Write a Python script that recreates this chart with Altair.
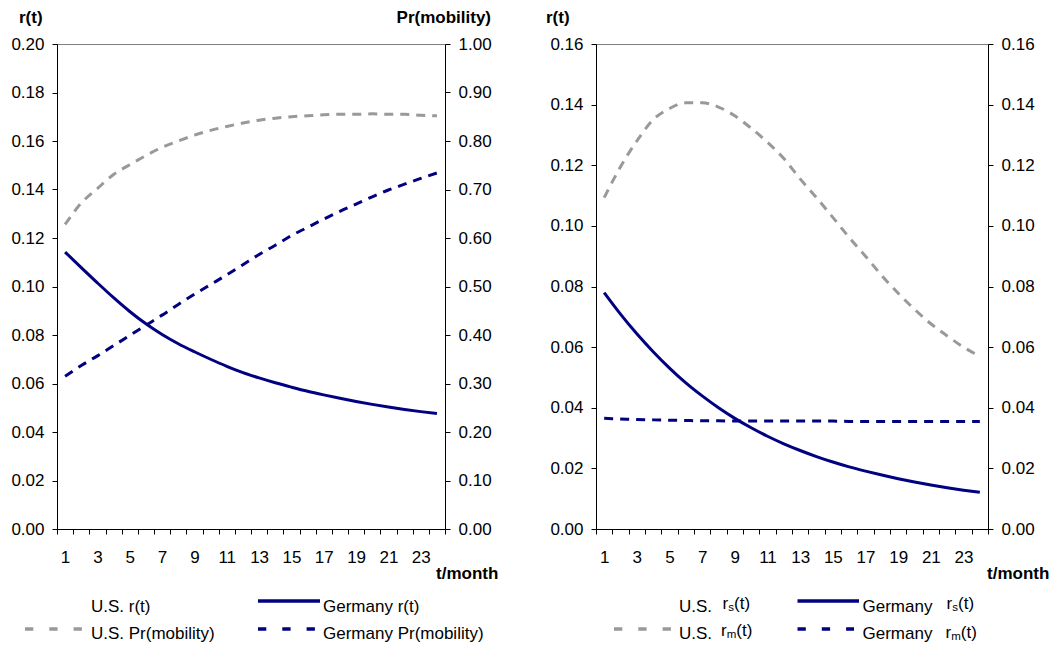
import altair as alt
import pandas as pd

# ---------------- data ----------------
months = list(range(1, 25))

# left panel
de_r = [0.1142, 0.1078, 0.1015, 0.0954, 0.0897, 0.0846, 0.0802, 0.0764, 0.0731, 0.0700,
        0.0671, 0.0645, 0.0623, 0.0603, 0.0585, 0.0568, 0.0553, 0.0539, 0.0526, 0.0514,
        0.0503, 0.0493, 0.0484, 0.0476]
us_pr = [0.628, 0.672, 0.702, 0.731, 0.751, 0.770, 0.787, 0.800, 0.812, 0.822,
         0.830, 0.837, 0.843, 0.847, 0.850, 0.852, 0.854, 0.855, 0.855, 0.856,
         0.855, 0.855, 0.853, 0.852]
de_pr = [0.315, 0.337, 0.357, 0.378, 0.399, 0.420, 0.441, 0.463, 0.484, 0.504,
         0.524, 0.545, 0.566, 0.585, 0.605, 0.622, 0.639, 0.655, 0.670, 0.685,
         0.699, 0.711, 0.723, 0.734]

# right panel
us_rm = [0.1093, 0.1195, 0.1280, 0.1350, 0.1387, 0.1406, 0.1406, 0.1392, 0.1363, 0.1322,
         0.1276, 0.1222, 0.1155, 0.1093, 0.1028, 0.0962, 0.0900, 0.0836, 0.0778, 0.0725,
         0.0677, 0.0637, 0.0600, 0.0570]
de_rs = [0.0780, 0.0709, 0.0644, 0.0585, 0.0531, 0.0482, 0.0439, 0.0400, 0.0365, 0.0334,
         0.0306, 0.0281, 0.0259, 0.0239, 0.0221, 0.0205, 0.0191, 0.0178, 0.0166, 0.0155,
         0.0145, 0.0136, 0.0128, 0.0121]
de_rm = [0.0365, 0.0363, 0.0361, 0.0360, 0.0359, 0.0358, 0.0357, 0.0357, 0.0356, 0.0356,
         0.0356, 0.0356, 0.0356, 0.0356, 0.0356, 0.0355, 0.0355, 0.0355, 0.0355, 0.0355,
         0.0355, 0.0355, 0.0355, 0.0355]

r_ticks_left = [0.00, 0.02, 0.04, 0.06, 0.08, 0.10, 0.12, 0.14, 0.16, 0.18, 0.20]
pr_ticks = [0.0, 0.1, 0.2, 0.3, 0.4, 0.5, 0.6, 0.7, 0.8, 0.9, 1.0]
r_ticks_right = [0.00, 0.02, 0.04, 0.06, 0.08, 0.10, 0.12, 0.14, 0.16]
x_boundaries = [k + 0.5 for k in range(0, 25)]

series = ["U.S.", "Germany"]

# ---------------- style ----------------
NAVY = "#000080"
GRAY = "#999999"
FONT = "Liberation Sans"
FS = 17
W1, W2, H = 388, 392, 485
DASH = [9, 7]
TITLE_Y = -26


def x_enc(width):
    return alt.X(
        "t:Q",
        scale=alt.Scale(domain=[0.5, 24.5], nice=False, zero=False),
        axis=alt.Axis(
            values=x_boundaries,
            labelExpr="(datum.value < 24 && (datum.value + 0.5) % 2 == 1) ? format(datum.value + 0.5, 'd') : ''",
            labelOffset=width / 48.0,
            labelAlign="center",
            labelPadding=15,
            labelFlush=False,
            labelOverlap=False,
            title=None,
        ),
    )


def y_axis(orient, values, fmt):
    return alt.Axis(orient=orient, values=values, format=fmt, title=None,
                    labelPadding=8, labelOverlap=False, labelFlush=False)


def txt(text, x, y, size=FS, bold=False, align="left"):
    return alt.Chart(pd.DataFrame({"k": [0]})).mark_text(
        text=text, align=align, baseline="middle", font=FONT, fontSize=size,
        fontWeight="bold" if bold else "normal", color="black",
    ).encode(x=alt.value(x), y=alt.value(y))


def seg(x1, x2, y, color, dash=None):
    kw = dict(color=color, strokeWidth=3.5)
    if dash:
        kw["strokeDash"] = dash
    return alt.Chart(pd.DataFrame({"k": [0]})).mark_rule(**kw).encode(
        x=alt.value(x1), x2=alt.value(x2), y=alt.value(y))


# ---------------- left panel ----------------
df_l1 = pd.DataFrame({"t": months, "value": de_r})
df_l2 = pd.DataFrame({
    "t": months * 2,
    "value": us_pr + de_pr,
    "series": [series[0]] * 24 + [series[1]] * 24,
})

left_line = alt.Chart(df_l1).mark_line(color=NAVY, strokeWidth=3, interpolate="monotone").encode(
    x=x_enc(W1),
    y=alt.Y("value:Q", scale=alt.Scale(domain=[0, 0.20], nice=False, zero=True),
            axis=y_axis("left", r_ticks_left, ".2f")),
)
left_pr = alt.Chart(df_l2).mark_line(strokeWidth=3, strokeDash=DASH, interpolate="monotone").encode(
    x=x_enc(W1),
    y=alt.Y("value:Q", scale=alt.Scale(domain=[0, 1.0], nice=False, zero=True),
            axis=y_axis("right", pr_ticks, ".2f")),
    color=alt.Color("series:N", scale=alt.Scale(domain=series, range=[GRAY, NAVY]), legend=None),
)

left_layers = [
    left_pr, left_line,
    txt("r(t)", -38, TITLE_Y, bold=True),
    txt("Pr(mobility)", 434, TITLE_Y, bold=True, align="right"),
    txt("t/month", 379, 530, bold=True),
    # legend
    txt("U.S. r(t)", 34, 563),
    seg(201, 263, 557, NAVY),
    txt("Germany r(t)", 266, 563),
    seg(-32, 25, 585, GRAY, [8.3, 16]),
    txt("U.S. Pr(mobility)", 34, 590),
    seg(201, 258, 585, NAVY, [8.3, 16]),
    txt("Germany Pr(mobility)", 266, 590),
]
left = alt.layer(*left_layers).resolve_scale(y="independent").properties(width=W1, height=H)

# ---------------- right panel ----------------
df_r1 = pd.DataFrame({"t": months, "value": de_rs})
df_r2 = pd.DataFrame({
    "t": months * 2,
    "value": us_rm + de_rm,
    "series": [series[0]] * 24 + [series[1]] * 24,
})

right_line = alt.Chart(df_r1).mark_line(color=NAVY, strokeWidth=3, interpolate="monotone").encode(
    x=x_enc(W2),
    y=alt.Y("value:Q", scale=alt.Scale(domain=[0, 0.16], nice=False, zero=True),
            axis=y_axis("left", r_ticks_right, ".2f")),
)
right_rm = alt.Chart(df_r2).mark_line(strokeWidth=3, strokeDash=DASH, interpolate="monotone").encode(
    x=x_enc(W2),
    y=alt.Y("value:Q", scale=alt.Scale(domain=[0, 0.16], nice=False, zero=True),
            axis=y_axis("right", r_ticks_right, ".2f")),
    color=alt.Color("series:N", scale=alt.Scale(domain=series, range=[GRAY, NAVY]), legend=None),
)


def sub_label(x, y, sub):
    sub_w = 5.8 if sub == "s" else 9.6
    return [
        txt("r", x, y - 3),
        txt(sub, x + 5.7, y + 0.5, size=11.5),
        txt("(t)", x + 5.7 + sub_w, y - 3),
    ]


right_layers = [
    right_rm, right_line,
    txt("r(t)", -50, TITLE_Y, bold=True),
    txt("t/month", 391, 530, bold=True),
    # legend
    txt("U.S.", 83, 563),
    *sub_label(126.5, 563, "s"),
    seg(201.5, 263, 557, NAVY),
    txt("Germany", 266.5, 563),
    *sub_label(350.5, 563, "s"),
    seg(18, 75, 585, GRAY, [8.3, 16]),
    txt("U.S.", 83, 590),
    *sub_label(125, 590, "m"),
    seg(201.5, 258, 585, NAVY, [8.3, 16]),
    txt("Germany", 266.5, 590),
    *sub_label(349.5, 592, "m"),
]
right = alt.layer(*right_layers).resolve_scale(y="independent").properties(width=W2, height=H)

chart = alt.hconcat(left, right, spacing=46).properties(
    padding={"left": 2, "top": 0, "right": 0, "bottom": 0}
).configure_view(
    stroke="#808080", strokeWidth=1
).configure_axis(
    grid=False,
    domainColor="black",
    domainWidth=1,
    tickColor="black",
    tickSize=5,
    labelFont=FONT,
    labelFontSize=FS,
    labelColor="black",
)

chart.save("out.html", embed_options={"renderer": "svg", "actions": False})
